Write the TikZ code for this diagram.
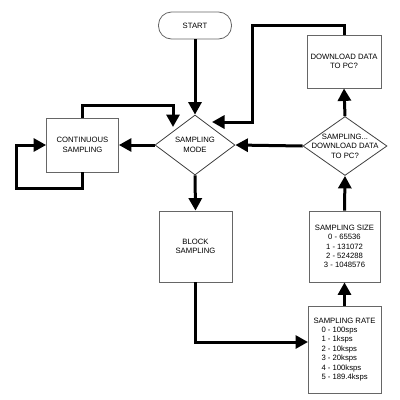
\documentclass[tikz,border=0pt]{standalone}
\usepackage{fontspec}
\setmainfont{Liberation Sans}
\usetikzlibrary{arrows.meta,shapes.geometric,calc}
\begin{document}
\begin{tikzpicture}[x=1pt,y=-1pt,
  txt/.style={font=\fontsize{7.7pt}{9.4pt}\selectfont,align=center},
  box/.style={draw=black!60,line width=0.8pt,rectangle,inner sep=0pt,txt},
  dia/.style={draw=black!75,line width=0.8pt,diamond,inner sep=0pt},
  arr/.style={line width=3pt,-{Triangle[length=12.5pt,width=13pt]}},
  ln/.style={line width=3pt}]
\useasboundingbox (0,0) rectangle (400,400);
\node[box,rounded corners=13pt,minimum width=73pt,minimum height=27pt] (start) at (195,25.5) {START};
\node[dia,minimum width=80pt,minimum height=60pt,
  label={[txt]center:SAMPLING\\MODE}] (smode) at (195,145) {};
\node[box,minimum width=72pt,minimum height=54pt] (cont) at (82.5,145) {CONTINUOUS\\SAMPLING};
\node[box,minimum width=74pt,minimum height=53pt] (dl) at (344,61.5) {DOWNLOAD DATA\\TO PC?};
\node[dia,minimum width=84pt,minimum height=59pt,
  label={[txt]center:SAMPLING...\\DOWNLOAD DATA\\TO PC?}] (dl2) at (345,146) {};
\node[box,minimum width=73pt,minimum height=71pt] (block) at (195.5,246.5) {BLOCK\\SAMPLING};
\node[box,minimum width=71pt,minimum height=71pt] (size) at (344.5,246.5) {SAMPLING SIZE\\0 - 65536\\1 - 131072\\2 - 524288\\3 - 1048576};
\node[box,minimum width=73pt,minimum height=87pt] (rate) at (344.5,349.5) {SAMPLING RATE\\
  \makebox[46pt][l]{0 - 100sps}\\
  \makebox[46pt][l]{1 - 1ksps}\\
  \makebox[46pt][l]{2 - 10ksps}\\
  \makebox[46pt][l]{3 - 20ksps}\\
  \makebox[46pt][l]{4 - 100ksps}\\
  \makebox[46pt][l]{5 - 189.4ksps}};
\coordinate (t1) at (173,127);
\coordinate (k1) at (173,105);
\coordinate (l1) at (16,188);
\coordinate (k2) at (252,25);
\coordinate (t2) at (212,122);
\coordinate (t3) at (308,342);
\draw[arr] (start.south) -- (smode.north);
\draw[arr] (smode.west) -- (cont.east);
\draw[arr] (cont.north) |- (k1) -- (t1);
\draw[arr] (cont.south) |- (l1) |- (cont.west);
\draw[arr] (dl.north) |- (k2) |- (t2);
\draw[arr] (dl2.west) -- (smode.east);
\draw[arr] (dl2.north) -- (dl.south);
\draw[arr] (size.north) -- (dl2.south);
\draw[arr] (smode.south) -- (block.north);
\draw[arr] (block.south) |- (t3);
\draw[arr] (rate.north) -- (size.south);
\end{tikzpicture}
\end{document}
